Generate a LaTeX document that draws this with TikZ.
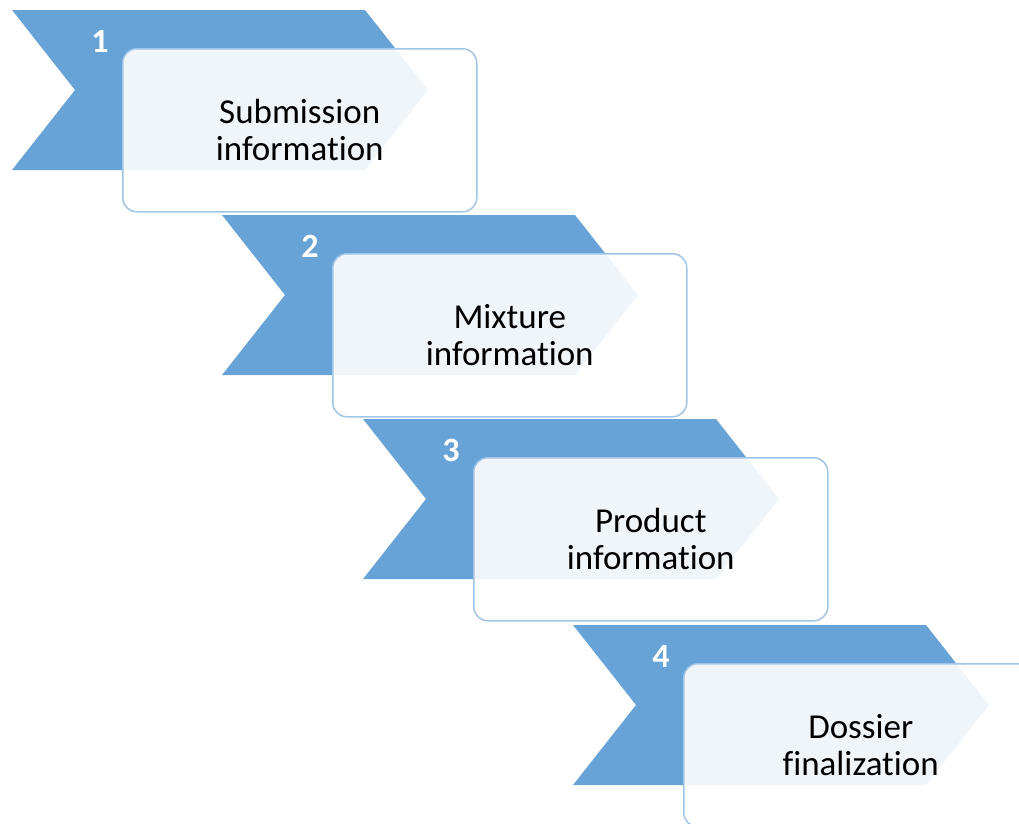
\documentclass[tikz,border=0pt]{standalone}
\usepackage{fontspec}
\setmainfont{Carlito}[Ligatures=NoCommon]
\definecolor{white}{RGB}{255,255,255}
\definecolor{chevron_blue}{RGB}{103,163,214}
\definecolor{frame_blue}{RGB}{160,197,231}

\begin{document}
\begin{tikzpicture}[x=1pt,y=-1pt]
	\clip (0,0) rectangle (1019,823);
	\foreach \n/\x/\y/\txt in {1/12/10/{Submission\\information},2/222/215/{Mixture\\information},3/363/419/{Product\\information},4/573/625/{Dossier\\finalization}}
	{
		\fill[chevron_blue] (\x,\y) -- ++(353,0) -- ++(63,80) -- ++(-63,80) -- ++(-353,0) -- ++(63,-80) -- cycle;
		\node[text=white,font=\bfseries\fontsize{34}{36}\selectfont] (num\n) at (\x+88,\y+31) {\n};
		\node[draw=frame_blue,line width=1.5pt,fill=white,fill opacity=0.9,text opacity=1,rounded corners=14pt,minimum width=354pt,minimum height=163pt,align=center,font=\fontsize{35}{37}\selectfont,anchor=north west] (box\n) at (\x+110,\y+38) {\txt};
	}
\end{tikzpicture}
\end{document}
